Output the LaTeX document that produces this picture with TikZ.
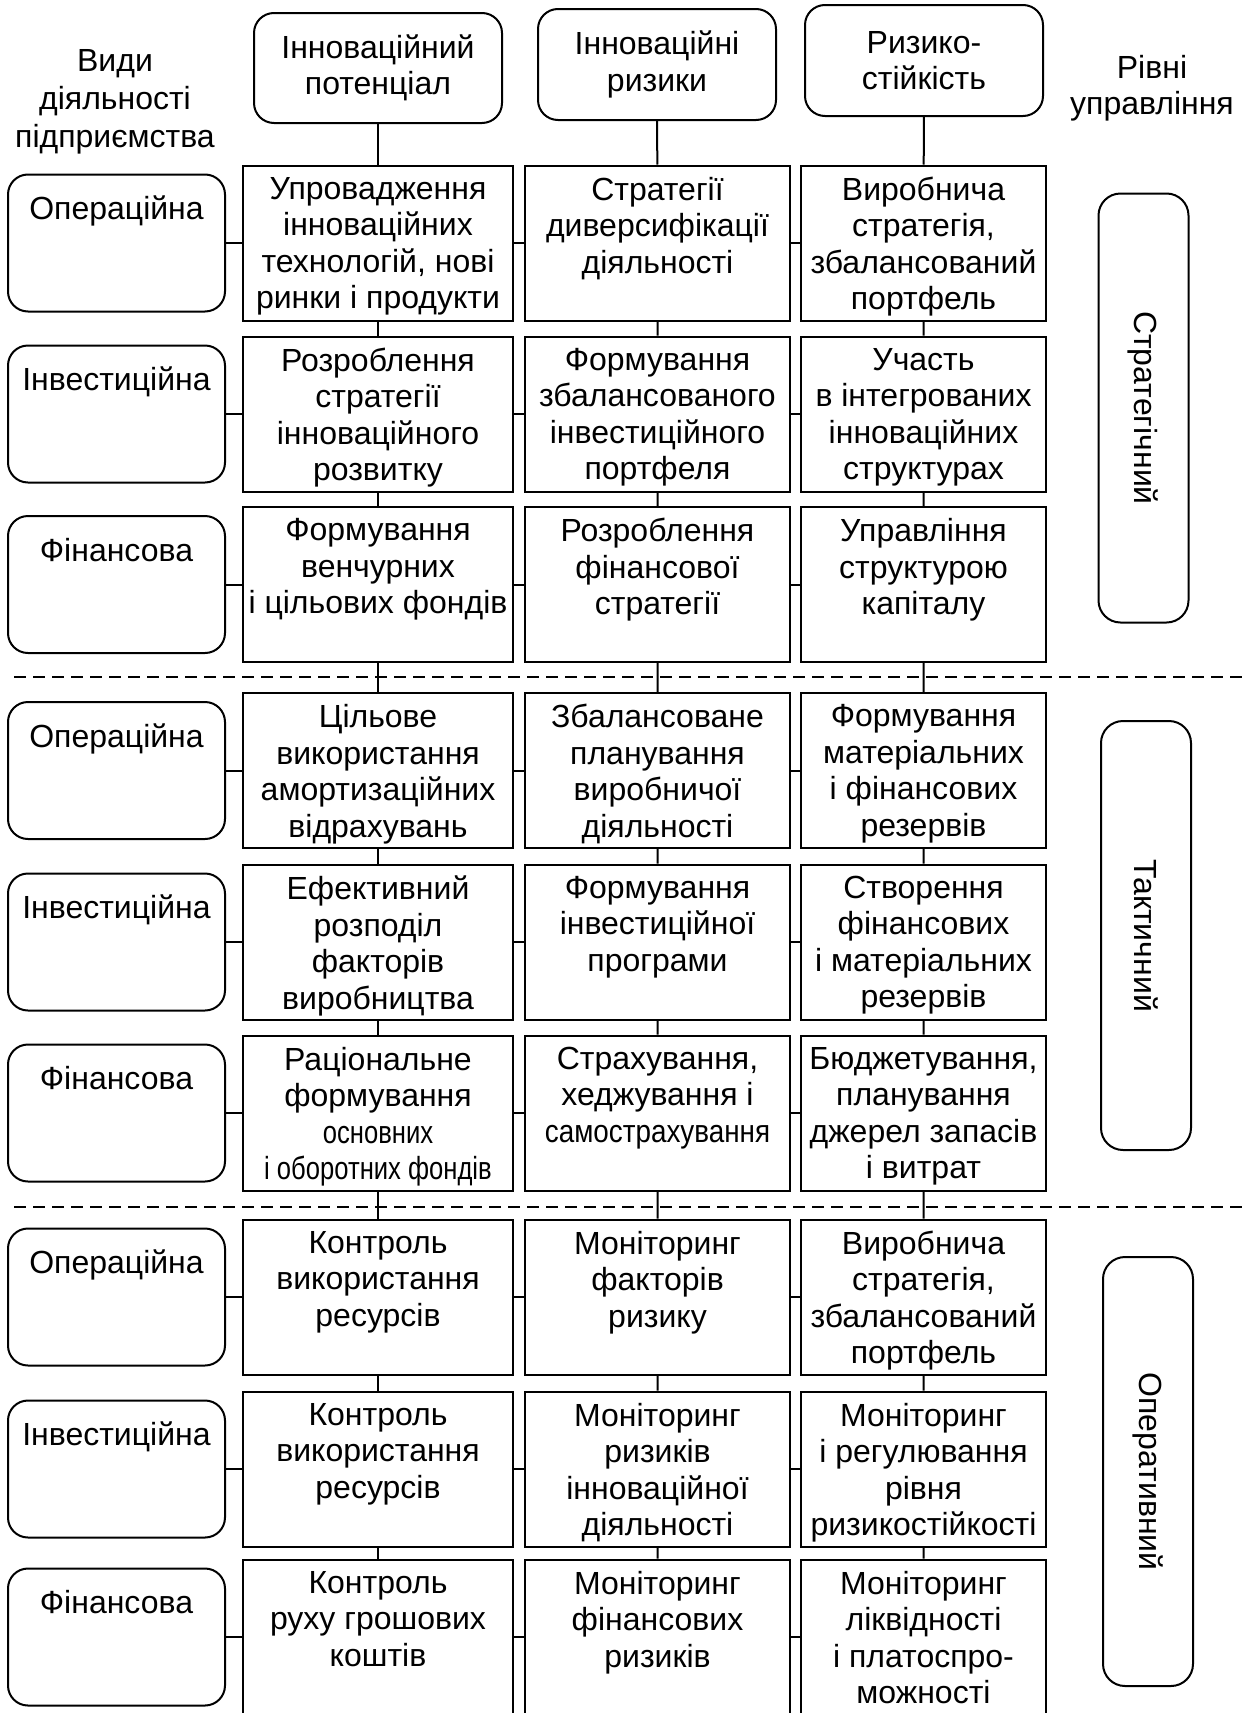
\documentclass[tikz,border=0pt]{standalone}
\usepackage{fontspec}
\setmainfont{Liberation Sans}
\newfontfamily\narrowfont[FakeStretch=0.8]{Liberation Sans}
\newfontfamily\condfont[FakeStretch=0.87]{Liberation Sans}
\usetikzlibrary{positioning}

\begin{document}
\begin{tikzpicture}[
  x=1pt, y=-1pt,
  font=\fontsize{32}{36.5}\selectfont,
  line width=2pt,
  hdr/.style={draw, rounded corners=20pt, align=center, inner sep=0pt},
  txt/.style={anchor=north, align=center, inner sep=0pt, execute at begin node=\strut},
  cell/.style={draw, minimum height=155pt, inner sep=0pt,
    label={[txt, yshift=-11.5pt]north:{#1}}},
  side/.style={draw, rounded corners=20pt, minimum width=217pt, minimum height=137pt,
    inner sep=0pt, label={[txt, yshift=-19.5pt]north:{#1}}},
  lvl/.style={draw, rounded corners=22pt, rotate=-90, minimum width=429pt, minimum height=90pt},
  colA/.style={minimum width=270pt},
  colB/.style={minimum width=265pt},
  colC/.style={minimum width=245pt},
  sep/.style={dash pattern=on 12pt off 7pt},
  lbl/.style={align=center}
]
\useasboundingbox (0,0) rectangle (1245,1713);

% column heads
\node[lbl, font=\fontsize{32}{38}\selectfont] (kinds) at (115,102) {Види\\діяльності\\підприємства};
\node[hdr, minimum width=248pt, minimum height=110pt] (pot) at (378,68) {Інноваційний\\потенціал};
\node[hdr, minimum width=238pt, minimum height=111pt] (risk) at (657,64.5) {Інноваційні\\ризики};
\node[hdr, minimum width=238pt, minimum height=111pt] (stab) at (924,60.5) {Ризико-\\стійкість};
\node[lbl] (levels) at (1152,88) {Рівні\\управління};

% strategic level
\node[cell={Упровадження\\інноваційних\\технологій, нові\\ринки і продукти}, colA] (pot1) at (378,243) {};
\node[cell={Стратегії\\диверсифікації\\діяльності}, colB, right=10pt of pot1] (risk1) {};
\node[cell={Виробнича\\стратегія,\\збалансований\\портфель}, colC, right=9pt of risk1] (stab1) {};
\node[side=Операційна, left=16pt of pot1] (act1) {};

\node[cell={Розроблення\\стратегії\\інноваційного\\розвитку}, colA] (pot2) at (378,414) {};
\node[cell={Формування\\збалансованого\\інвестиційного\\портфеля}, colB, right=10pt of pot2] (risk2) {};
\node[cell={Участь\\в інтегрованих\\інноваційних\\структурах}, colC, right=9pt of risk2] (stab2) {};
\node[side=Інвестиційна, left=16pt of pot2] (act2) {};

\node[cell={Формування\\венчурних\\і цільових фондів}, colA] (pot3) at (378,584.5) {};
\node[cell={Розроблення\\фінансової\\стратегії}, colB, right=10pt of pot3] (risk3) {};
\node[cell={Управління\\структурою\\капіталу}, colC, right=9pt of risk3] (stab3) {};
\node[side=Фінансова, left=16pt of pot3] (act3) {};

% tactical level
\node[cell={Цільове\\використання\\амортизаційних\\відрахувань}, colA] (pot4) at (378,770.5) {};
\node[cell={Збалансоване\\планування\\виробничої\\діяльності}, colB, right=10pt of pot4] (risk4) {};
\node[cell={Формування\\матеріальних\\і фінансових\\резервів}, colC, right=9pt of risk4] (stab4) {};
\node[side=Операційна, left=16pt of pot4] (act4) {};

\node[cell={Ефективний\\розподіл\\факторів\\виробництва}, colA] (pot5) at (378,942) {};
\node[cell={Формування\\інвестиційної\\програми}, colB, right=10pt of pot5] (risk5) {};
\node[cell={Створення\\фінансових\\і матеріальних\\резервів}, colC, right=9pt of risk5] (stab5) {};
\node[side=Інвестиційна, left=16pt of pot5] (act5) {};

\node[cell={Раціональне\\формування\\{\narrowfont основних}\\{\narrowfont і оборотних фондів}}, colA] (pot6) at (378,1113) {};
\node[cell={Страхування,\\хеджування і\\{\condfont самострахування}}, colB, right=10pt of pot6] (risk6) {};
\node[cell={Бюджетування,\\планування\\джерел запасів\\і витрат}, colC, right=9pt of risk6] (stab6) {};
\node[side=Фінансова, left=16pt of pot6] (act6) {};

% operative level
\node[cell={Контроль\\використання\\ресурсів}, colA] (pot7) at (378,1297) {};
\node[cell={Моніторинг\\факторів\\ризику}, colB, right=10pt of pot7] (risk7) {};
\node[cell={Виробнича\\стратегія,\\збалансований\\портфель}, colC, right=9pt of risk7] (stab7) {};
\node[side=Операційна, left=16pt of pot7] (act7) {};

\node[cell={Контроль\\використання\\ресурсів}, colA] (pot8) at (378,1469) {};
\node[cell={Моніторинг\\ризиків\\інноваційної\\діяльності}, colB, right=10pt of pot8] (risk8) {};
\node[cell={Моніторинг\\і регулювання\\рівня\\ризикостійкості}, colC, right=9pt of risk8] (stab8) {};
\node[side=Інвестиційна, left=16pt of pot8] (act8) {};

\node[cell={Контроль\\руху грошових\\коштів}, colA] (pot9) at (378,1637) {};
\node[cell={Моніторинг\\фінансових\\ризиків}, colB, right=10pt of pot9] (risk9) {};
\node[cell={Моніторинг\\ліквідності\\і платоспро-\\можності}, colC, right=9pt of risk9] (stab9) {};
\node[side=Фінансова, left=16pt of pot9] (act9) {};

% management levels
\node[lvl] (strat) at (1143.5,408) {Стратегічний};
\node[lvl] (tact) at (1146,935.5) {Тактичний};
\node[lvl] (oper) at (1148,1471.5) {Оперативний};

% level borders
\draw[sep] (14,677) -- (1245,677);
\draw[sep] (14,1207) -- (1245,1207);

% links
\draw (pot) -- (pot1) -- (pot2) -- (pot3) -- (pot4) -- (pot5) -- (pot6) -- (pot7) -- (pot8) -- (pot9);
\draw (risk) -- (risk1) -- (risk2) -- (risk3) -- (risk4) -- (risk5) -- (risk6) -- (risk7) -- (risk8) -- (risk9);
\draw (stab) -- (stab1) -- (stab2) -- (stab3) -- (stab4) -- (stab5) -- (stab6) -- (stab7) -- (stab8) -- (stab9);
\draw (act1) -- (pot1) -- (risk1) -- (stab1);
\draw (act2) -- (pot2) -- (risk2) -- (stab2);
\draw (act3) -- (pot3) -- (risk3) -- (stab3);
\draw (act4) -- (pot4) -- (risk4) -- (stab4);
\draw (act5) -- (pot5) -- (risk5) -- (stab5);
\draw (act6) -- (pot6) -- (risk6) -- (stab6);
\draw (act7) -- (pot7) -- (risk7) -- (stab7);
\draw (act8) -- (pot8) -- (risk8) -- (stab8);
\draw (act9) -- (pot9) -- (risk9) -- (stab9);
\end{tikzpicture}
\end{document}
